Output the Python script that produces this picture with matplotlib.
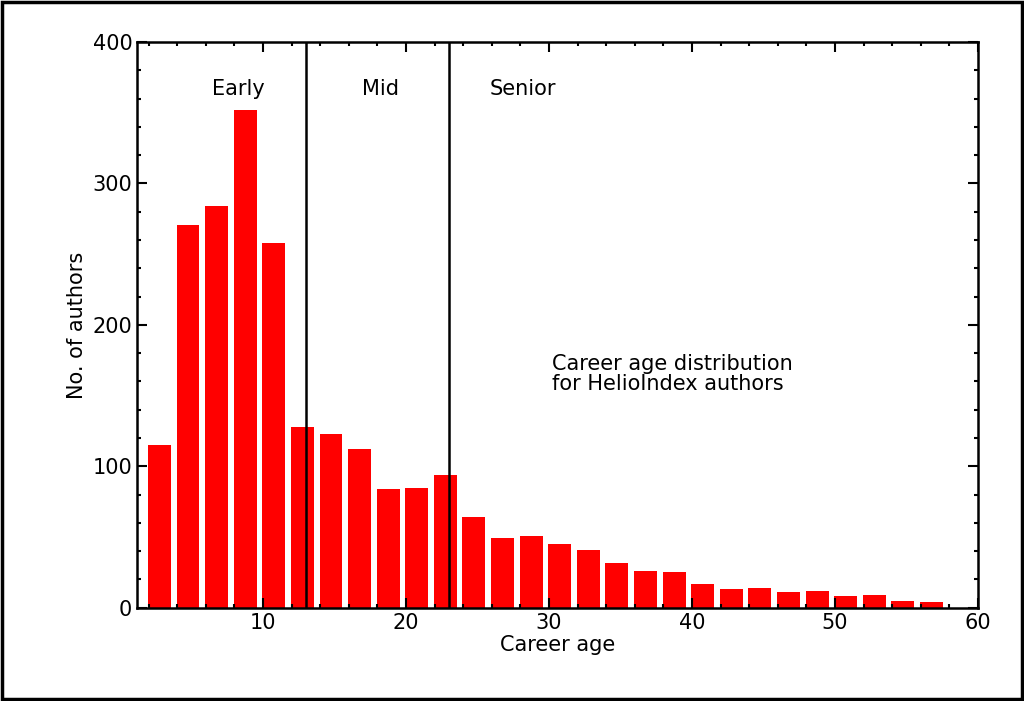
import matplotlib
matplotlib.use("Agg")
import matplotlib.pyplot as plt
from matplotlib.ticker import MultipleLocator

centers = [2.75 + 2 * i for i in range(28)]
counts = [115, 271, 284, 352, 258, 128, 123, 112, 84, 85, 94, 64, 49, 51, 45,
          41, 32, 26, 25, 17, 13, 14, 11, 12, 8, 9, 5, 4]
boundaries = [13, 23]
labels = [("Early", 8.3), ("Mid", 18.2), ("Senior", 28.2)]

fig = plt.figure(figsize=(10.24, 7.01), dpi=100)
fig.patches.append(plt.Rectangle((0.002, 0.003), 0.996, 0.994, transform=fig.transFigure,
                                 fill=False, edgecolor="black", linewidth=2.5))
ax = fig.add_axes([0.134, 0.133, 0.821, 0.807])
ax.bar(centers, counts, width=1.6, color="red")
for b in boundaries:
    ax.axvline(b, color="black", linewidth=1.8)
for t, x in labels:
    ax.text(x, 367, t, ha="center", va="center", fontsize=15)
ax.text(30.2, 165, "Career age distribution\nfor HelioIndex authors", fontsize=15,
        va="center", ha="left", linespacing=1.0)
ax.set_xlim(1.2, 60)
ax.set_ylim(0, 400)
ax.xaxis.set_major_locator(MultipleLocator(10))
ax.xaxis.set_minor_locator(MultipleLocator(2))
ax.yaxis.set_major_locator(MultipleLocator(100))
ax.yaxis.set_minor_locator(MultipleLocator(20))
ax.tick_params(which="both", direction="in", top=True, right=True, labelsize=15, width=1.5)
ax.tick_params(which="major", length=7)
ax.tick_params(which="minor", length=3)
for s in ax.spines.values():
    s.set_linewidth(1.8)
ax.set_xlabel("Career age", fontsize=15, labelpad=2)
ax.set_ylabel("No. of authors", fontsize=15)
fig.savefig("out.png", dpi=100)
